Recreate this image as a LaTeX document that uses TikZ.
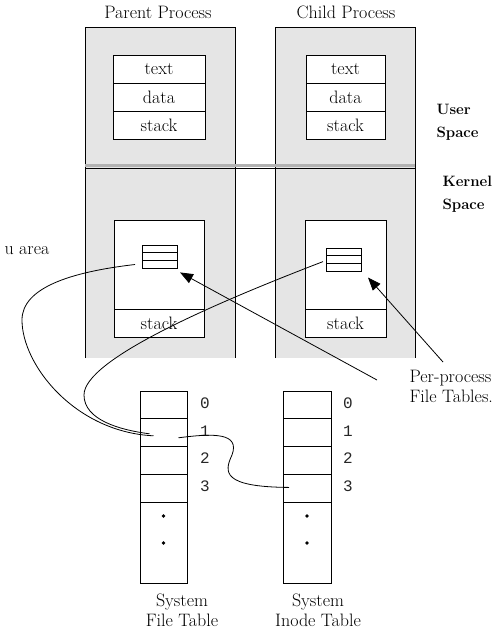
\documentclass[tikz,border=0pt]{standalone}
\usepackage{fontspec}
\newfontfamily\digitfont{Liberation Mono}
\usetikzlibrary{arrows.meta,positioning}

\begin{document}
\begin{tikzpicture}[x=1pt,y=-1pt,
  lbl/.style={font=\fontsize{18}{20}\selectfont},
  side/.style={font=\fontsize{15}{23}\selectfont\bfseries,align=left,anchor=west},
  cell/.style={draw,fill=white,line width=1pt,inner sep=0pt,outer sep=0pt,
    minimum height=28pt,font=\fontsize{18}{20}\selectfont},
  irow/.style={draw,line width=0.9pt,inner sep=0pt,outer sep=0pt,
    minimum width=35pt,minimum height=7.8pt},
  tcell/.style={draw,line width=1pt,inner sep=0pt,outer sep=0pt,
    minimum width=47pt,minimum height=27.8pt},
  num/.style={font=\fontsize{16}{20}\selectfont\digitfont,text=black!85},
  dot/.style={circle,fill,inner sep=0pt,minimum size=3.6pt},
  link/.style={line width=0.8pt},
  ptr/.style={line width=0.8pt,-{Triangle[length=13pt,width=10pt]}}]
  \useasboundingbox (0,0) rectangle (500,630);

  % process areas
  \fill[gray!20] (85,27) rectangle (235,358);
  \fill[gray!20] (275,27) rectangle (415,358);
  \draw[line width=1pt] (85,358) -- (85,27) -- (235,27) -- (235,358);
  \draw[line width=1pt] (275,358) -- (275,27) -- (415,27) -- (415,358);
  \draw[gray!60,line width=2.6pt] (85,165.5) -- (415,165.5);
  \draw[line width=0.9pt] (85,168.6) -- (415,168.6);

  \node[lbl] (plabel) at (158,12) {Parent Process};
  \node[lbl] (clabel) at (346,12) {Child Process};
  \node[side] (user) at (433,122) {User\\Space};
  \node[side] (kernel) at (439,194) {Kernel\\Space};
  \node[lbl,anchor=west] (uarea) at (1,251) {u area};

  % user space
  \node[cell,minimum width=92pt] (ptext) at (159,69) {text};
  \node[cell,minimum width=92pt,below=0pt of ptext] (pdata) {data};
  \node[cell,minimum width=92pt,below=0pt of pdata] (pstack) {stack};
  \node[cell,minimum width=79pt] (ctext) at (345.5,69) {text};
  \node[cell,minimum width=79pt,below=0pt of ctext] (cdata) {data};
  \node[cell,minimum width=79pt,below=0pt of cdata] (cstack) {stack};

  % kernel space
  \node[cell,minimum width=90pt,minimum height=89pt] (pua) at (159,264.5) {};
  \node[cell,minimum width=90pt,below=0pt of pua] (pkstack) {stack};
  \node[cell,minimum width=81pt,minimum height=89pt] (cua) at (345.5,264.5) {};
  \node[cell,minimum width=81pt,below=0pt of cua] (ckstack) {stack};

  \node[irow] (pic1) at (159.5,248.9) {};
  \node[irow,below=0pt of pic1] (pic2) {};
  \node[irow,below=0pt of pic2] (pic3) {};
  \node[irow] (cic1) at (343.5,252) {};
  \node[irow,below=0pt of cic1] (cic2) {};
  \node[irow,below=0pt of cic2] (cic3) {};

  % system tables
  \foreach \i in {0,...,3} {
    \node[tcell] (ft\i) at (163.5,{405+27.8*\i}) {};
    \node[tcell,minimum width=48pt] (it\i) at (307,{405+27.8*\i}) {};
    \node[num] (fn\i) at (205,{403+27.8*\i}) {\i};
    \node[num] (in\i) at (348,{403+27.8*\i}) {\i};
  }
  \node[tcell,minimum height=80.8pt,below=0pt of ft3] (ftrest) {};
  \node[tcell,minimum width=48pt,minimum height=80.8pt,below=0pt of it3] (itrest) {};
  \node[dot] (ftd1) at (163.5,516) {};
  \node[dot] (ftd2) at (163.5,543) {};
  \node[dot] (itd1) at (307,516) {};
  \node[dot] (itd2) at (307,543) {};

  \node[lbl,align=center] (ftlabel) at (182,610) {System\\File Table};
  \node[lbl,align=center] (itlabel) at (318,610) {System\\Inode Table};
  \node[lbl,align=left,anchor=north west] (pptab) at (406,367) {Per-process\\File Tables.};

  % pointers
  \coordinate (ptail) at (377,380);
  \coordinate (ctail) at (443,362);
  \draw[ptr] (ptail) -- ([shift={(3,4)}]pic3.south east);
  \draw[ptr] (ctail) -- ([shift={(7,6)}]cic3.south east);

  \draw[link] ([shift={(-7,0)}]pic3.west) .. controls (70,272) and (22,288) .. (22,320)
    .. controls (22,365) and (75,432) .. ([shift={(-10,3)}]ft1.center);
  \draw[link] ([shift={(-3,-6)}]cic3.west) .. controls (210,305) and (84,360) .. (84,395)
    .. controls (84,420) and (120,430) .. ([shift={(-14,1)}]ft1.center);
  \draw[link] ([shift={(15,5)}]ft1.center) .. controls (215,433) and (240,433) .. (232,455)
    .. controls (224,472) and (222,487) .. ([shift={(-18,-1)}]it3.center);
\end{tikzpicture}
\end{document}
